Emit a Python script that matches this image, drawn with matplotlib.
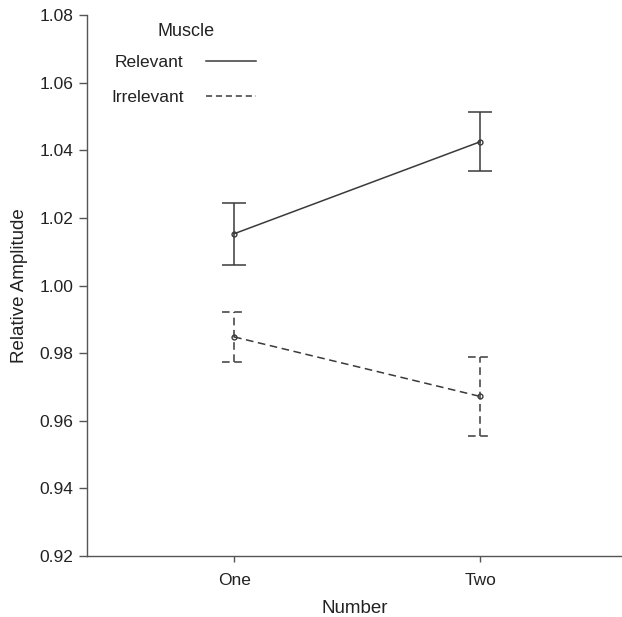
import matplotlib
matplotlib.use("Agg")
import matplotlib.pyplot as plt
from matplotlib.lines import Line2D
import numpy as np

plt.rcParams['font.family'] = ['Liberation Sans', 'DejaVu Sans']

categories = ["One", "Two"]
relevant_mean = [1.0153, 1.0425]
relevant_err = [0.0092, 0.0087]
irrelevant_mean = [0.9848, 0.9672]
irrelevant_err = [0.0073, 0.0117]
yticks = [0.92, 0.94, 0.96, 0.98, 1.00, 1.02, 1.04, 1.06, 1.08]

color = "#3a3a3a"
fig = plt.figure(figsize=(6.22, 6.17), dpi=100)
ax = fig.add_axes([87/622, 1-556/617, 1-87/622, (556-15)/617])

x = np.arange(len(categories))
cap = 0.05
for mean, err, ls in [(relevant_mean, relevant_err, '-'), (irrelevant_mean, irrelevant_err, (0, (5, 3)))]:
    mean = np.array(mean); err = np.array(err)
    ax.plot(x, mean, linestyle=ls, color=color, lw=1.1, marker='o', ms=3.5,
            mfc='none', mec=color, mew=1.0, zorder=3)
    ax.vlines(x, mean - err, mean + err, colors=color, linestyles=ls, lw=1.1)
    for xi, lo, hi in zip(x, mean - err, mean + err):
        ax.hlines([lo, hi], xi - cap, xi + cap, colors=color, linestyles=ls, lw=1.1)

ax.set_xlim(-0.598, 1.577)
ax.set_ylim(0.92, 1.08)
ax.set_xticks(x)
ax.set_xticklabels(categories)
ax.set_yticks(yticks)
ax.set_yticklabels([f"{v:.2f}" for v in yticks])
for s in ['top', 'right']:
    ax.spines[s].set_visible(False)
for s in ['left', 'bottom']:
    ax.spines[s].set_color('#555555')
    ax.spines[s].set_linewidth(1.0)
ax.tick_params(axis='y', direction='out', length=6, width=1.0, colors='#555555', labelcolor='#222222', labelsize=12.5, pad=4)
ax.tick_params(axis='x', direction='out', length=4, width=1.0, colors='#555555', labelcolor='#222222', labelsize=12.5, pad=8)
ax.set_xlabel("Number", fontsize=13.5, color='#222222', labelpad=9)
ax.set_ylabel("Relative Amplitude", fontsize=13.5, color='#222222', labelpad=8)

handles = [Line2D([0], [0], color=color, lw=1.1, linestyle='-'),
           Line2D([0], [0], color=color, lw=1.1, linestyle=(0, (4, 2.5)))]
leg = ax.legend(handles, ["Relevant", "Irrelevant"], frameon=False,
                markerfirst=False, loc='center left', bbox_to_anchor=(111/622, 1-80/617),
                bbox_transform=fig.transFigure, fontsize=12.5,
                handlelength=2.9, labelspacing=1.18, handletextpad=1.3, borderaxespad=0,
                borderpad=0)
for t in leg.get_texts():
    t.set_color('#222222')
fig.text(186/622, 1-32/617, "Muscle", ha='center', va='center', fontsize=13, color='#222222')

fig.savefig("out.png", dpi=100)
